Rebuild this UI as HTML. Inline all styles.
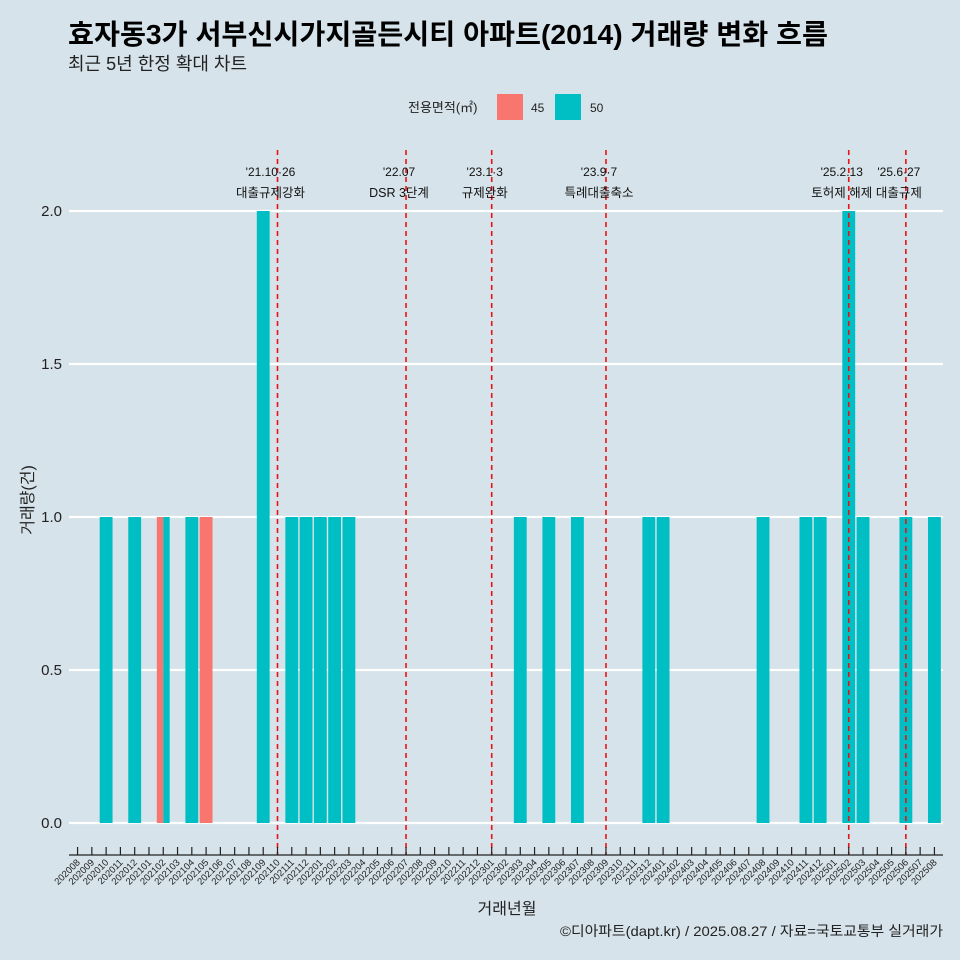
<!DOCTYPE html>
<html><head><meta charset="utf-8">
<style>
html,body{margin:0;padding:0;background:#d6e3ea;}
svg{display:block;font-family:"Liberation Sans","Noto Sans CJK KR",sans-serif;}
</style></head>
<body>
<svg id="chart" width="960" height="960" viewBox="0 0 960 960">
<rect x="0" y="0" width="960" height="960" fill="#d6e3ea"/>
<text x="68" y="44" font-size="28" font-weight="bold" fill="#000" textLength="760" lengthAdjust="spacingAndGlyphs">효자동3가 서부신시가지골든시티 아파트(2014) 거래량 변화 흐름</text>
<text x="68" y="70" font-size="18" fill="#222">최근 5년 한정 확대 차트</text>
<g>
<text x="408" y="112" font-size="13" fill="#222">전용면적(㎡)</text>
<rect x="497" y="94" width="26" height="26" fill="#f8766d"/>
<text x="531" y="112" font-size="12" fill="#222">45</text>
<rect x="555" y="94" width="26" height="26" fill="#00bfc4"/>
<text x="590" y="112" font-size="12" fill="#222">50</text>
</g>
<g id="grid"></g><g id="bars"></g><g id="vlines"></g><g id="xaxis"></g><g id="yaxis"></g>
<text x="507" y="914" font-size="16" text-anchor="middle" fill="#222">거래년월</text>
<text transform="translate(33,500) rotate(-90)" font-size="16" text-anchor="middle" fill="#222">거래량(건)</text>
<text x="943" y="936" font-size="14" text-anchor="end" fill="#222" textLength="383" lengthAdjust="spacingAndGlyphs">©디아파트(dapt.kr) / 2025.08.27 / 자료=국토교통부 실거래가</text>
</svg>
<script>
const months=[];
for(let y=2020,m=8;!(y===2025&&m===9);){months.push(''+y+(m<10?'0':'')+m);m++;if(m>12){m=1;y++;}}
const s45Months=["202102","202105"];
const s45Values=[1,1];
const s50Months=["202010","202012","202102","202104","202109","202111","202112","202201","202202","202203","202303","202305","202307","202312","202401","202408","202411","202412","202502","202503","202506","202508"];
const s50Values=[1,1,1,1,2,1,1,1,1,1,1,1,1,1,1,1,1,1,2,1,1,1];
const yTicks=[0,0.5,1,1.5,2];
const yTickLabels=["0.0","0.5","1.0","1.5","2.0"];
const eventMonths=["202110","202207","202301","202309","202502","202506"];
const eventDates=["'21.10·26","'22.07","'23.1·3","'23.9·7","'25.2.13","'25.6·27"];
const eventLabels=["대출규제강화","DSR 3단계","규제완화","특례대출축소","토허제 해제","대출규제"];

const NS="http://www.w3.org/2000/svg";
const L=69,R=943,T=150,B=855;
const step=(R-L)/(months.length-1+1.2);
const xC=m=>L+step*(0.6+months.indexOf(m));
const yS=v=>823-v*306;
function mk(tag,attrs,parent){const e=document.createElementNS(NS,tag);for(const k in attrs)e.setAttribute(k,attrs[k]);parent.appendChild(e);return e;}
const grid=document.getElementById('grid');
yTicks.forEach((t,i)=>{
  const l=mk('line',{x1:L,x2:R,y1:yS(t),y2:yS(t),stroke:'#fff','stroke-width':2.2},grid);
  
  
  const tx=mk('text',{x:62,y:yS(t)+5,'font-size':15,'text-anchor':'end',fill:'#222'},document.getElementById('yaxis'));
  tx.textContent=yTickLabels[i];
  
  
});
const bars=document.getElementById('bars');
const bw=step*0.9;
function drawBar(m,v,color,dodge,name){
  const both=s45Months.includes(m)&&s50Months.includes(m);
  let x=xC(m)-bw/2,w=bw;
  if(both){w=bw/2;x=xC(m)-bw/2+(dodge?w:0);}
  const r=mk('rect',{x:x,y:yS(v),width:w,height:yS(0)-yS(v),fill:color},bars);
  
  
}
s45Months.forEach((m,i)=>drawBar(m,s45Values[i],'#f8766d',false,'bar-45-'+m));
s50Months.forEach((m,i)=>drawBar(m,s50Values[i],'#00bfc4',true,'bar-50-'+m));
const vl=document.getElementById('vlines');
eventMonths.forEach((m,i)=>{
  const x=xC(m);
  const l=mk('line',{x1:x,x2:x,y1:T,y2:B,stroke:'#ee1111','stroke-width':1.6,'stroke-dasharray':'5,4'},vl);
  
  
  const d=mk('text',{x:x-7,y:176,'font-size':12,'text-anchor':'middle',fill:'#111'},vl);
  d.textContent=eventDates[i];
  
  
  const t=mk('text',{x:x-7,y:197,'font-size':12.5,'text-anchor':'middle',fill:'#111'},vl);
  t.textContent=eventLabels[i];
  
  
});
const xa=document.getElementById('xaxis');
const ax=mk('line',{x1:L,x2:R,y1:B,y2:B,stroke:'#222','stroke-width':1.2},xa);


months.forEach(m=>{
  const x=xC(m);
  const t=mk('line',{x1:x,x2:x,y1:B-8,y2:B,stroke:'#222','stroke-width':1.2},xa);
  
  
  const lb=mk('text',{transform:`translate(${x+3},${B+8}) rotate(-45)`,'font-size':9.5,'text-anchor':'end',fill:'#222'},xa);
  lb.textContent=m;
  
  
});
</script>
</body></html>
